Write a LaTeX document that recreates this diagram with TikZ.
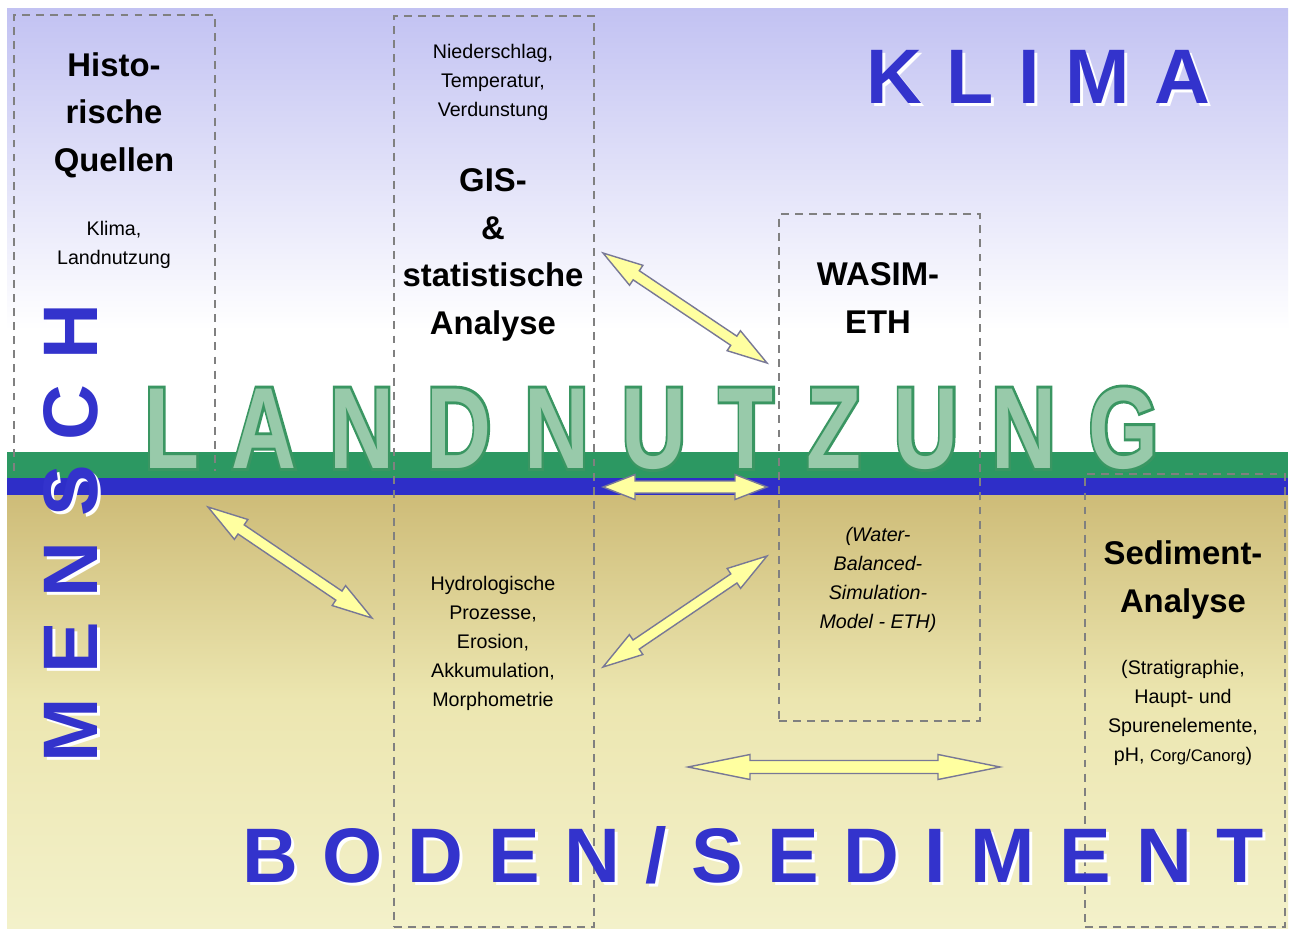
\documentclass[tikz,border=0pt]{standalone}
\usepackage{fontspec}
\usepackage{graphicx}
\setmainfont{Liberation Sans}
\usetikzlibrary{calc}
\newfontfamily\wordfont{Liberation Sans Bold}[LetterSpace=32]
\newfontfamily\landfillfont{Liberation Sans Bold}[LetterSpace=36]
\newfontfamily\landlinefont{Liberation Sans Bold}[LetterSpace=36,FakeBold=5]

\definecolor{lav}{RGB}{194,194,242}
\definecolor{tanA}{RGB}{206,188,120}
\definecolor{tanB}{RGB}{236,230,176}
\definecolor{tanC}{RGB}{243,241,202}
\definecolor{bandgreen}{RGB}{44,152,98}
\definecolor{bandblue}{RGB}{46,46,200}
\definecolor{wordblue}{RGB}{51,51,204}
\definecolor{landfillc}{RGB}{152,202,170}
\definecolor{landlinec}{RGB}{58,150,98}
\definecolor{dashgray}{RGB}{128,128,128}
\definecolor{arrowfill}{RGB}{255,255,160}
\definecolor{arrowline}{RGB}{120,120,150}

\newcommand\blockarrow[5]{%
  \coordinate (h1) at ($(#1)!#3!(#2)$);
  \coordinate (h2) at ($(#2)!#3!(#1)$);
  \draw[yarrowstyle] (#1) -- ($(h1)!#4!90:(#2)$) -- ($(h1)!#5!90:(#2)$)
    -- ($(h2)!#5!-90:(#1)$) -- ($(h2)!#4!-90:(#1)$) -- (#2)
    -- ($(h2)!#4!90:(#1)$) -- ($(h2)!#5!90:(#1)$)
    -- ($(h1)!#5!-90:(#2)$) -- ($(h1)!#4!-90:(#2)$) -- cycle;
}

\begin{document}
\begin{tikzpicture}[x=0.02cm, y=-0.02cm,
  dashbox/.style={draw=dashgray, line width=1.2pt, dash pattern=on 4.5pt off 3.5pt},
  boxnode/.style={inner sep=0, anchor=north west},
  titletext/.style={align=center, font=\fontsize{18.7}{27}\selectfont\bfseries, inner sep=0},
  smalltext/.style={align=center, font=\fontsize{11.2}{16.5}\selectfont, inner sep=0},
  italictext/.style={align=center, font=\fontsize{11.2}{16.5}\selectfont\itshape, inner sep=0},
  bigword/.style={font=\wordfont\fontsize{44}{44}\selectfont, inner sep=0, anchor=base west},
  landword/.style={font=\fontsize{65.7}{66}\selectfont, inner sep=0, anchor=base west},
  yarrowstyle/.style={fill=arrowfill, draw=arrowline, line width=0.8pt, line join=miter}
]
\useasboundingbox (0,0) rectangle (1295,930);
% background
\fill[white] (0,0) rectangle (1295,930);
\shade[top color=lav, bottom color=white] (7,8) rectangle (1288,330);
\fill[white] (7,329) rectangle (1288,452);
\fill[bandgreen] (7,452) rectangle (1288,478);
\fill[bandblue] (7,478) rectangle (1288,495);
\shade[top color=tanA, bottom color=tanB] (7,495) rectangle (1288,700);
\shade[top color=tanB, bottom color=tanC] (7,699.5) rectangle (1288,928);

% dashed boxes
\node[boxnode, minimum width=200*0.02cm, minimum height=455*0.02cm] (histbox) at (14,15) {};
\draw[dashbox] (histbox.south west) -- (histbox.north west) -- (histbox.north east) -- (histbox.south east);
\node[boxnode, dashbox, minimum width=200*0.02cm, minimum height=911*0.02cm] (gisbox) at (393,15) {};
\node[boxnode, dashbox, minimum width=201*0.02cm, minimum height=507*0.02cm] (wasimbox) at (778,213) {};
\node[boxnode, dashbox, minimum width=200*0.02cm, minimum height=453*0.02cm] (sedbox) at (1084,473) {};

% big words
\node[landword, text=landlinec] (landline) at (144,468) {\scalebox{0.78}[1]{\landlinefont LANDNUTZUNG}};
\node[landword, text=landfillc] (landnutzung) at (144,468) {\scalebox{0.78}[1]{\landfillfont LANDNUTZUNG}};

\node[bigword, text=white] (klimashadow) at (869,106) {KLIMA};
\node[bigword, text=wordblue] (klima) at (866,103) {KLIMA};

\node[bigword, text=white] (bodenshadow) at (245,885) {BODEN/SEDIMENT};
\node[bigword, text=wordblue] (boden) at (242,882) {BODEN/SEDIMENT};

\node[bigword, text=white, rotate=90] (menschshadow) at (100,766) {MENSCH};
\node[bigword, text=wordblue, rotate=90] (mensch) at (97,763) {MENSCH};

% texts
\node[titletext] (histtitle) at (114,115) {Histo-\\rische\\Quellen};
\node[smalltext] (histsub) at (114,245) {Klima,\\Landnutzung};
\node[smalltext] (gissub) at (493,82) {Niederschlag,\\Temperatur,\\Verdunstung};
\node[titletext] (gistitle) at (493,255) {GIS-\\\&\\statistische\\Analyse};
\node[titletext] (wasimtitle) at (878,298) {WASIM-\\ETH};
\node[italictext] (wasimsub) at (878,580) {(Water-\\Balanced-\\Simulation-\\Model - ETH)};
\node[smalltext] (hydro) at (493,643) {Hydrologische\\Prozesse,\\Erosion,\\Akkumulation,\\Morphometrie};
\node[titletext] (sedtitle) at (1183,580) {Sediment-\\Analyse};
\node[smalltext] (sedsub) at (1183,713) {(Stratigraphie,\\Haupt- und\\Spurenelemente,\\pH, {\fontsize{9.5}{10}\selectfont Corg/Canorg})};

% arrows
\coordinate (a1s) at (603,253); \coordinate (a1e) at (767,363);
\coordinate (a2s) at (603,487); \coordinate (a2e) at (767,487);
\coordinate (a3s) at (208,507); \coordinate (a3e) at (372,618);
\coordinate (a4s) at (603,667); \coordinate (a4e) at (767,556);
\coordinate (a5s) at (688,767); \coordinate (a5e) at (1000,767);
\blockarrow{a1s}{a1e}{0.8cm}{0.24cm}{0.11cm}
\blockarrow{a2s}{a2e}{0.64cm}{0.25cm}{0.12cm}
\blockarrow{a3s}{a3e}{0.8cm}{0.24cm}{0.11cm}
\blockarrow{a4s}{a4e}{0.8cm}{0.24cm}{0.11cm}
\blockarrow{a5s}{a5e}{1.24cm}{0.25cm}{0.13cm}
\end{tikzpicture}
\end{document}
